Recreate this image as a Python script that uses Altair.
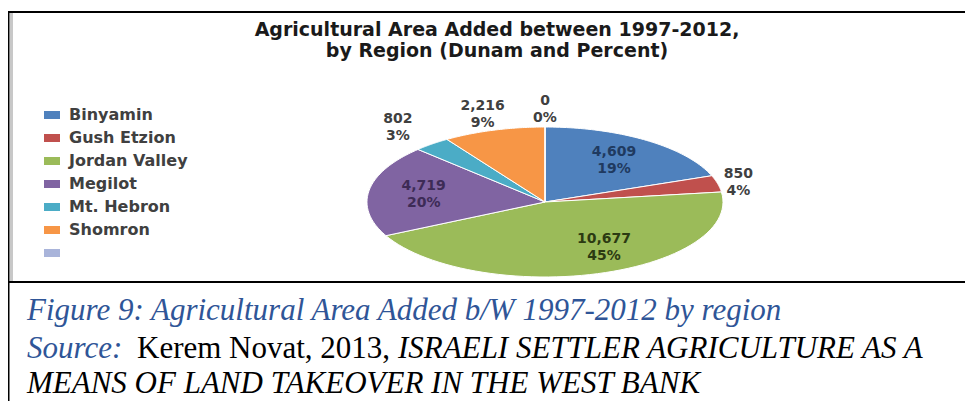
import altair as alt
import pandas as pd

# ---- data ----
regions = ["Binyamin", "Gush Etzion", "Jordan Valley", "Megilot", "Mt. Hebron", "Shomron", ""]
dunams = [4609, 850, 10677, 4719, 802, 2216, 0]

title_lines = ["Agricultural Area Added between 1997-2012,", "by Region (Dunam and Percent)"]
caption_1 = "Figure 9: Agricultural Area Added b/W 1997-2012 by region"
caption_2a = "Source:"
caption_2b = "Kerem Novat, 2013,"
caption_2c = "ISRAELI SETTLER AGRICULTURE AS A"
caption_3 = "MEANS OF LAND TAKEOVER IN THE WEST BANK"

# ---- styles ----
slice_colors = ["#4F81BD", "#C0504D", "#9BBB59", "#8064A2", "#4BACC6", "#F79646", "#A9B4DA"]
label_colors = ["#1F3A60", "#404040", "#2C3A12", "#3D2B56", "#404040", "#404040", "#404040"]
label_radius = [0.68, 1.12, 0.68, 0.69, 1.30, 1.22, 1.24]   # label placement (inside / outside)
label_turn = [0, 0, -12, 0, 0, 0, 0]                        # best-fit nudge, degrees
BLUE = "#2F5597"
W, H = 957, 393

df = pd.DataFrame({"region": regions, "dunam": dunams,
                   "idx": list(range(len(regions))),
                   "label_r": label_radius, "label_turn": label_turn})

xscale = alt.Scale(domain=[-1, 1], range=[359, 715])
yscale = alt.Scale(domain=[-1, 1], range=[269, 119])

base = alt.Chart(df).transform_joinaggregate(
    total="sum(dunam)"
).transform_window(
    cum_end="sum(dunam)", sort=[alt.SortField("idx")], frame=[None, 0]
).transform_calculate(
    a0="2*PI*(datum.cum_end - datum.dunam)/datum.total",
    a1="2*PI*datum.cum_end/datum.total",
)

slices = base.transform_calculate(
    pts="sequence(0, 62)"
).transform_flatten(["pts"]).transform_calculate(
    ang="datum.a0 + (datum.a1 - datum.a0) * max(datum.pts - 1, 0) / 60",
    px="datum.pts == 0 ? 0 : sin(datum.ang)",
    py="datum.pts == 0 ? 0 : cos(datum.ang)",
).mark_line(filled=True, stroke="white", strokeWidth=1, interpolate="linear-closed").encode(
    x=alt.X("px:Q", scale=xscale, axis=None),
    y=alt.Y("py:Q", scale=yscale, axis=None),
    order=alt.Order("pts:Q"),
    detail="region:N",
    fill=alt.Fill(
        "region:N", sort=regions,
        scale=alt.Scale(domain=regions, range=slice_colors),
        legend=alt.Legend(
            orient="none", legendX=36, legendY=99, title=None, padding=0,
            symbolType="M-1,-0.5H1V0.5H-1Z", symbolSize=256, symbolStrokeWidth=0,
            labelFont="DejaVu Sans", labelFontWeight="bold", labelFontSize=16,
            labelColor="#404040", rowPadding=7, labelOffset=9, labelLimit=300,
        ),
    ),
)

labels = base.transform_calculate(
    mid="(datum.a0 + datum.a1)/2 + datum.label_turn*PI/180",
    px="datum.label_r * sin(datum.mid)",
    py="datum.label_r * cos(datum.mid)",
    txt="format(datum.dunam, ',') + '\\n' + format(datum.dunam/datum.total, '.0%')",
).mark_text(
    font="DejaVu Sans", fontWeight="bold", fontSize=14, lineBreak="\n", lineHeight=17,
    align="center", baseline="middle", dy=-8,
).encode(
    x=alt.X("px:Q", scale=xscale, axis=None),
    y=alt.Y("py:Q", scale=yscale, axis=None),
    text="txt:N",
    color=alt.Color("region:N", scale=alt.Scale(domain=regions, range=label_colors), legend=None),
)

one = alt.Data(values=[{}])


def txt(s, x, y, size, color, style="normal", weight="normal", font="DejaVu Sans", align="left"):
    return alt.Chart(one).mark_text(
        text=s, font=font, fontSize=size, fontStyle=style, fontWeight=weight,
        color=color, align=align, baseline="alphabetic",
    ).encode(x=alt.value(x), y=alt.value(y))


def rule(x, y, x2=None, y2=None, color="black", width=2):
    enc = {"x": alt.value(x), "y": alt.value(y)}
    if x2 is not None:
        enc["x2"] = alt.value(x2)
    if y2 is not None:
        enc["y2"] = alt.value(y2)
    return alt.Chart(one).mark_rule(color=color, strokeWidth=width).encode(**enc)


layers = [
    rule(3.5, 5, y2=273, color="#c8c8c8", width=3),
    rule(0, 4, x2=W, color="black", width=2),
    rule(0.75, 4, y2=H, color="black", width=1.5),
    rule(0, 274, x2=W, color="black", width=2),
    slices,
    labels,
    txt(title_lines[0], 489, 28, 19, "#1a1a1a", weight="bold", align="center"),
    txt(title_lines[1], 489, 49, 19, "#1a1a1a", weight="bold", align="center"),
    txt(caption_1, 19, 312, 31, BLUE, style="italic", font="Liberation Serif"),
    txt(caption_2a, 19, 350, 31, BLUE, style="italic", font="Liberation Serif"),
    txt(caption_2b, 129, 350, 31, "black", font="Liberation Serif"),
    txt(caption_2c, 390, 350, 31, "black", style="italic", font="Liberation Serif"),
    txt(caption_3, 19, 385, 31, "black", style="italic", font="Liberation Serif"),
]

chart = alt.layer(*layers).resolve_scale(color="independent", fill="independent").properties(
    width=W, height=H, padding=0, autosize=alt.AutoSizeParams(type="none"),
    background="white",
).configure_view(stroke="transparent")

chart.save("out.html", embed_options={"renderer": "svg", "actions": False})
